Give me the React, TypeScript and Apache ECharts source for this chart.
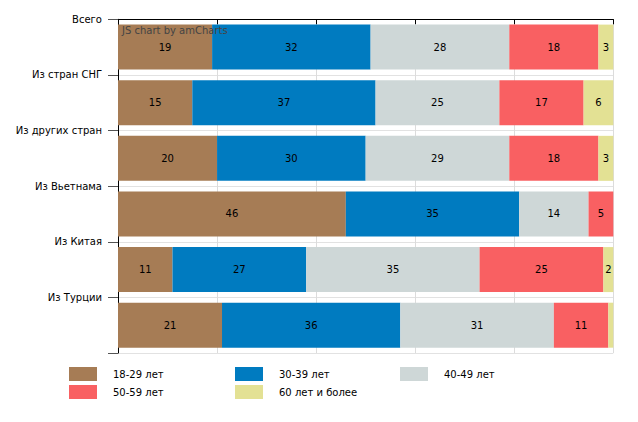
import React, { useEffect, useRef } from "react";
import * as echarts from "echarts";

const categories = ["Всего", "Из стран СНГ", "Из других стран", "Из Вьетнама", "Из Китая", "Из Турции"];
const seriesNames = ["18-29 лет", "30-39 лет", "40-49 лет", "50-59 лет", "60 лет и более"];
const age18_29 = [19, 15, 20, 46, 11, 21];
const age30_39 = [32, 37, 30, 35, 27, 36];
const age40_49 = [28, 25, 29, 14, 35, 31];
const age50_59 = [18, 17, 18, 5, 25, 11];
const age60plus = [3, 6, 3, 0, 2, 1];
const colors = ["#a67c55", "#007bc0", "#ced7d7", "#f96062", "#e3e194"];

const FONT = "'DejaVu Sans', Verdana, sans-serif";
const FS = 10;

export default function App() {
  const ref = useRef<HTMLDivElement>(null);
  useEffect(() => {
    if (!ref.current) return;
    const chart = echarts.init(ref.current, undefined, { renderer: "svg" });
    const data = [age18_29, age30_39, age40_49, age50_59, age60plus];
    chart.setOption({
      animation: false,
      textStyle: { fontFamily: FONT },
      title: {
        text: "JS chart by amCharts",
        left: 117,
        top: 20,
        textStyle: { fontSize: FS, fontWeight: "normal", color: "#444", fontFamily: FONT },
      },
      grid: { left: 118, right: 24.7, top: 19.3, bottom: 69, containLabel: false },
      xAxis: {
        type: "value",
        min: 0,
        max: 100,
        interval: 20,
        axisLabel: { show: false },
        axisLine: { show: true, lineStyle: { color: "#000", width: 1 } },
        axisTick: { show: true, length: 5, lineStyle: { color: "#000" } },
        splitLine: { show: true, lineStyle: { color: "#dcdcdc" } },
      },
      yAxis: [
        {
          type: "category",
          data: categories,
          inverse: true,
          show: false,
        },
        {
          type: "value",
          min: 0,
          max: categories.length,
          interval: 1,
          inverse: true,
          position: "left",
          axisLine: { show: true, lineStyle: { color: "#000", width: 1 } },
          axisTick: { show: true, length: 10, lineStyle: { color: "#555" } },
          splitLine: { show: true, lineStyle: { color: "#e2e2e2" } },
          axisLabel: {
            margin: 16,
            color: "#000",
            fontSize: FS,
            fontFamily: FONT,
            formatter: (v: number) => categories[v] ?? "",
          },
        },
      ],
      legend: [
        { names: [seriesNames[0], seriesNames[3]], left: 69 },
        { names: [seriesNames[1], seriesNames[4]], left: 235 },
        { names: [seriesNames[2]], left: 400 },
      ].map((l) => ({
        data: l.names,
        left: l.left,
        top: 367,
        padding: 0,
        orient: "vertical",
        itemWidth: 28,
        itemHeight: 14,
        itemGap: 4,
        icon: "rect",
        selectedMode: false,
        textStyle: { fontSize: FS, color: "#000", fontFamily: FONT, padding: [0, 0, 0, 11] },
      })),
      series: seriesNames.map((name, i) => ({
        name,
        type: "bar",
        stack: "total",
        barWidth: 45,
        yAxisIndex: 0,
        data: data[i],
        itemStyle: { color: colors[i] },
        label: {
          show: true,
          position: "inside",
          color: "#000",
          fontSize: FS,
          fontFamily: FONT,
          formatter: (p: any) => (p.value >= 2 ? String(p.value) : ""),
        },
      })),
    });
    return () => chart.dispose();
  }, []);
  return <div ref={ref} style={{ width: 638, height: 422, margin: -8 }} />;
}
